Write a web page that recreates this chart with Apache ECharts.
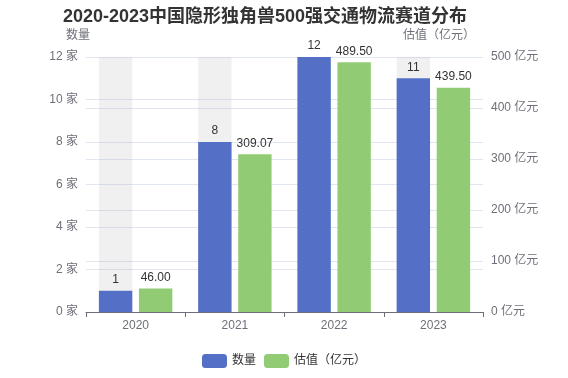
<!DOCTYPE html>
<html><head><meta charset="utf-8">
<script src="https://cdn.jsdelivr.net/npm/echarts@6/dist/echarts.min.js"></script>
<style>html,body{margin:0;padding:0;background:#fff}#c{width:568px;height:378px}</style>
</head><body><div id="c"></div>
<script>
const years = ['2020', '2021', '2022', '2023'];
const counts = [1, 8, 12, 11];
const valuations = [46.00, 309.07, 489.50, 439.50];
const countTicks = {min: 0, max: 12, interval: 2};
const valTicks = {min: 0, max: 500, interval: 100};

const FF = "'Liberation Sans', 'Noto Sans CJK SC', sans-serif";
const chart = echarts.init(document.getElementById('c'));
chart.setOption({
  animation: false,
  textStyle: {fontFamily: FF},
  title: {text: '2020-2023中国隐形独角兽500强交通物流赛道分布', left: 58, top: 3,
    textStyle: {fontSize: 18, fontWeight: 'bold', color: '#333', fontFamily: FF}},
  legend: {bottom: 5, itemWidth: 25, itemHeight: 14, textStyle: {color: '#333', fontSize: 12},
    data: ['数量', '估值（亿元）']},
  grid: {left: 86, right: 85, top: 57, bottom: 66},
  xAxis: {type: 'category', data: years,
    axisLine: {lineStyle: {color: '#6e7079'}}, axisTick: {show: true},
    axisLabel: {color: '#6e7079', fontSize: 12}},
  yAxis: [
    {type: 'value', name: '数量', min: countTicks.min, max: countTicks.max, interval: countTicks.interval,
      nameTextStyle: {color: '#6e7079', fontSize: 12, padding: [0, 16, 0, 0]},
      axisLabel: {formatter: '{value} 家', color: '#6e7079', fontSize: 12},
      splitLine: {lineStyle: {color: '#e0e6f1'}}},
    {type: 'value', name: '估值（亿元）', min: valTicks.min, max: valTicks.max, interval: valTicks.interval,
      nameTextStyle: {color: '#6e7079', fontSize: 12, align: 'right', padding: [0, 8, 0, 0]},
      axisLabel: {formatter: '{value} 亿元', color: '#6e7079', fontSize: 12},
      splitLine: {lineStyle: {color: '#e0e6f1'}}}
  ],
  series: [
    {name: '数量', type: 'bar', data: counts, yAxisIndex: 0, barGap: '20%', barCategoryGap: '26%',
      itemStyle: {color: '#5470c6'},
      showBackground: true, backgroundStyle: {color: 'rgba(180,180,180,0.2)'},
      label: {show: true, position: 'top', color: '#333', fontSize: 12}},
    {name: '估值（亿元）', type: 'bar', data: valuations, yAxisIndex: 1,
      itemStyle: {color: '#91cc75'},
      label: {show: true, position: 'top', color: '#333', fontSize: 12,
        formatter: p => p.value.toFixed(2)}}
  ]
});
</script></body></html>
